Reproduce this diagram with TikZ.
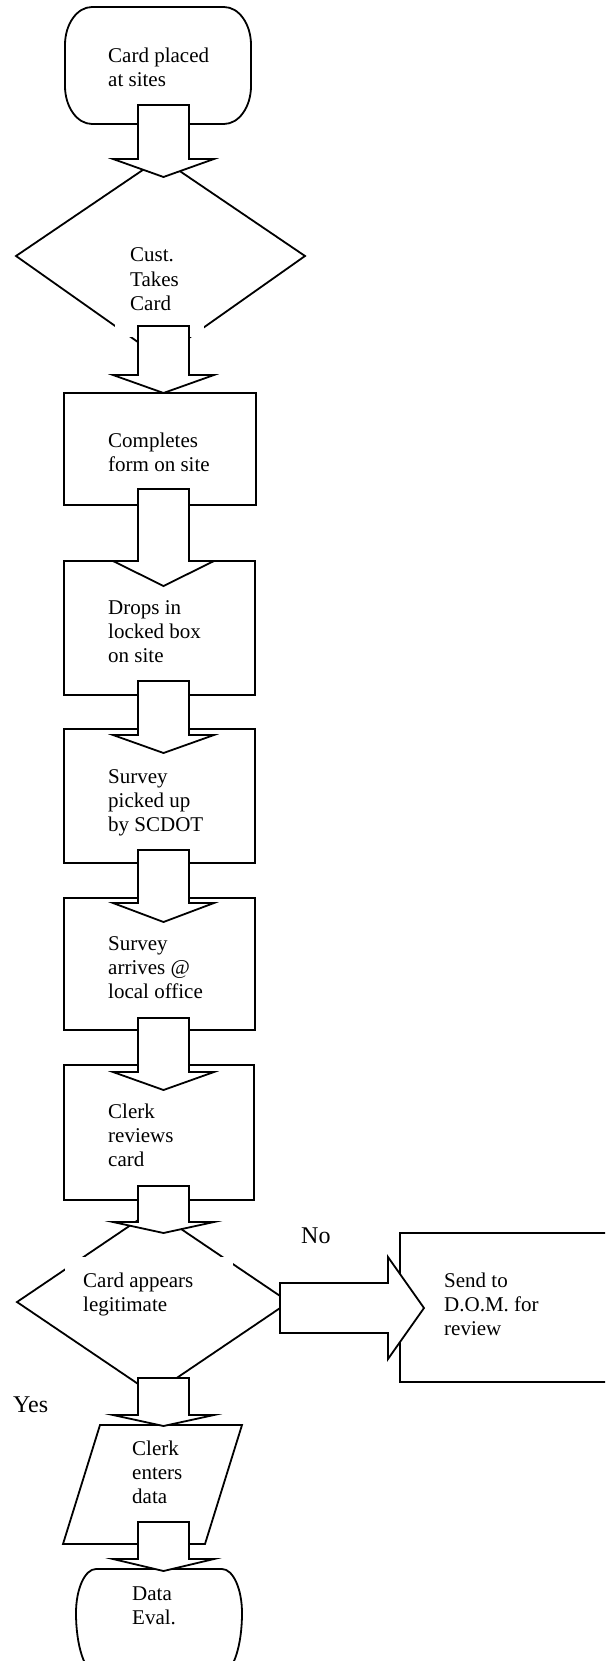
\documentclass[tikz,border=0pt]{standalone}
\usepackage{fontspec}
\setmainfont{Liberation Serif}
\usetikzlibrary{calc}
\tikzset{
  shp/.style={draw=black, line width=1.8pt, line join=miter},
  fatarrow/.style={draw=black, fill=white, line width=1.8pt},
  txt/.style={anchor=base west, inner sep=0pt, align=left, font=\fontsize{21}{24}\selectfont},
  lbl/.style={anchor=base west, inner sep=0pt, font=\fontsize{24}{28}\selectfont},
  gapfill/.style={fill=white, draw=none},
}
% vertical block arrow: start coordinate, head length, tip coordinate
\newcommand\fatdown[3]{%
  \path[fatarrow] let \p1=(#1), \p2=(#3) in
   (\x1-25.5pt,\y1) -- (\x1-25.5pt,\y2+#2pt) -- (\x1-50.5pt,\y2+#2pt) -- (\x1,\y2)
   -- (\x1+50.5pt,\y2+#2pt) -- (\x1+25.5pt,\y2+#2pt) -- (\x1+25.5pt,\y1) -- cycle;}
% horizontal block arrow: start coordinate, head length, tip coordinate
\newcommand\fatright[3]{%
  \path[fatarrow] let \p1=(#1), \p2=(#3) in
   (\x1,\y1+25pt) -- (\x2-#2pt,\y1+25pt) -- (\x2-#2pt,\y1+51pt) -- (\x2,\y1)
   -- (\x2-#2pt,\y1-51pt) -- (\x2-#2pt,\y1-25pt) -- (\x1,\y1-25pt) -- cycle;}
\begin{document}
\begin{tikzpicture}[x=1pt,y=-1pt]
\useasboundingbox (0,0) rectangle (605,1661);
\clip (0,0) rectangle (605,1661);

% ---- shapes ----
% start terminator
\draw[shp] (92,7) -- (224,7)
  arc[start angle=90,end angle=0,x radius=27pt,y radius=38pt] -- (251,86)
  arc[start angle=0,end angle=-90,x radius=27pt,y radius=38pt] -- (92,124)
  arc[start angle=270,end angle=180,x radius=27pt,y radius=38pt] -- (65,45)
  arc[start angle=180,end angle=90,x radius=27pt,y radius=38pt] -- cycle;
\draw[shp] (16,256) -- (160.5,158) -- (305,256) -- (160.5,358) -- cycle;
\draw[shp] (64,393) rectangle (256,505);
\draw[shp] (64,561) rectangle (255,695);
\draw[shp] (64,729) rectangle (255,863);
\draw[shp] (64,898) rectangle (255,1030);
\draw[shp] (64,1065) rectangle (254,1200);
\draw[shp] (17,1302) -- (153,1210) -- (289,1302) -- (153,1394) -- cycle;
\draw[shp] (615,1233) -- (400,1233) -- (400,1382) -- (615,1382);
\draw[shp] (100,1425) -- (242,1425) -- (205,1544) -- (63,1544) -- cycle;
% end terminator (cut by the lower margin)
\draw[shp] (96,1569) -- (222,1569)
  arc[start angle=90,end angle=0,x radius=20pt,y radius=44pt]
  arc[start angle=0,end angle=-90,x radius=20pt,y radius=60pt] -- (96,1673)
  arc[start angle=270,end angle=180,x radius=20pt,y radius=60pt]
  arc[start angle=180,end angle=90,x radius=20pt,y radius=44pt] -- cycle;

% white text-box areas that interrupt the diamond outlines
\fill[gapfill] (115,230) rectangle (204,337);
\fill[gapfill] (65,1257) rectangle (233,1325);

% ---- texts (anchored at the baseline of the last line) ----
\node[txt] (t1) at (108,87) {Card placed\\at sites};
\node[txt] (t2) at (130,310) {Cust.\\Takes\\Card};
\node[txt] (t3) at (108,471) {Completes\\form on site};
\node[txt] (t4) at (108,662) {Drops in\\locked box\\on site};
\node[txt] (t5) at (108,831) {Survey\\picked up\\by SCDOT};
\node[txt] (t6) at (108,998) {Survey\\arrives @\\local office};
\node[txt] (t7) at (108,1166) {Clerk\\reviews\\card};
\node[txt] (t8) at (83,1311) {Card appears\\legitimate};
\node[txt] (t9) at (444,1335) {Send to\\D.O.M. for\\review};
\node[txt] (t10) at (132,1503) {Clerk\\enters\\data};
\node[txt] (t11) at (132,1624) {Data\\Eval.};
\node[lbl] (no) at (301,1243) {No};
\node[lbl] (yes) at (13,1412) {Yes};

% ---- block arrows ----
\coordinate (a1s) at (163.5,105);  \coordinate (a1t) at (163.5,177);
\coordinate (a2s) at (163.5,326);  \coordinate (a2t) at (163.5,393);
\coordinate (a3s) at (163.5,489);  \coordinate (a3t) at (163.5,586);
\coordinate (a4s) at (163.5,681);  \coordinate (a4t) at (163.5,753);
\coordinate (a5s) at (163.5,850);  \coordinate (a5t) at (163.5,922);
\coordinate (a6s) at (163.5,1018); \coordinate (a6t) at (163.5,1090);
\coordinate (a7s) at (163.5,1186); \coordinate (a7t) at (163.5,1233);
\coordinate (a8s) at (163.5,1378); \coordinate (a8t) at (163.5,1426);
\coordinate (a9s) at (163.5,1522); \coordinate (a9t) at (163.5,1571);
\coordinate (nos) at (280,1308);   \coordinate (not) at (424,1308);
\fatdown{a1s}{18}{a1t}
\fatdown{a2s}{18}{a2t}
\fatdown{a3s}{25}{a3t}
\fatdown{a4s}{18}{a4t}
\fatdown{a5s}{19}{a5t}
\fatdown{a6s}{18}{a6t}
\fatdown{a7s}{11}{a7t}
\fatdown{a8s}{11}{a8t}
\fatdown{a9s}{12}{a9t}
\fatright{nos}{36}{not}
\end{tikzpicture}
\end{document}
